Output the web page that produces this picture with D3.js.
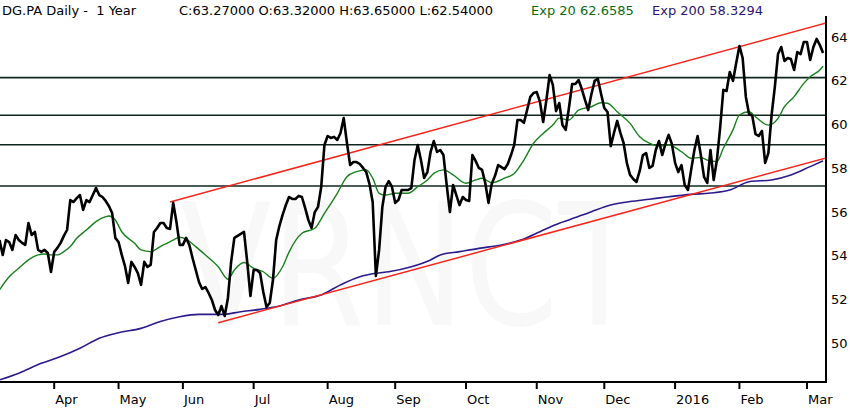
<!DOCTYPE html>
<html>
<head>
<meta charset="utf-8">
<title>DG.PA Daily - 1 Year</title>
<script src="https://cdn.jsdelivr.net/npm/d3@7"></script>
<style>
    html, body { margin: 0; padding: 0; background: #fff; }
    svg { display: block; font-family: "DejaVu Sans", Verdana, sans-serif; }
    .header { white-space: pre; }
</style>
</head>
<body>
<div id="chart"></div>
<script>
// --- Chart data ---
// daily closes, one per trading day, index 0 = first day shown
const closes = [
    54.71, 54.03, 54.71, 54.62, 54.26, 54.94, 54.71, 54.58, 54.49, 55.49,
    54.94, 55.08, 54.26, 54.17, 54.26, 54.12, 53.25, 54.17, 54.35, 54.58,
    54.90, 55.17, 56.54, 56.45, 56.63, 56.77, 56.09, 56.54, 56.45, 56.77,
    57.09, 56.77, 56.68, 56.50, 56.27, 55.95, 54.81, 54.62, 54.03, 53.52,
    52.75, 53.71, 53.48, 53.20, 52.66, 53.71, 53.48, 53.57, 55.08, 55.26,
    55.49, 55.49, 55.26, 55.22, 56.41, 55.54, 54.49, 54.49, 54.81, 54.49,
    53.89, 53.34, 52.79, 52.47, 52.56, 52.29, 51.97, 51.51, 51.28, 51.69,
    51.24, 52.06, 53.71, 54.81, 54.90, 54.99, 55.08, 53.71, 52.15, 53.34,
    53.34, 53.20, 52.33, 51.65, 51.83, 52.88, 54.71, 55.35, 55.86, 56.31,
    56.68, 56.59, 56.59, 56.73, 56.68, 56.18, 55.63, 55.26, 55.99, 56.22,
    57.14, 59.06, 59.47, 59.38, 59.43, 59.29, 59.61, 60.29, 59.15, 58.14,
    58.28, 58.28, 58.19, 58.01, 57.82, 57.28, 56.45, 53.07, 54.26, 56.22,
    57.14, 57.41, 57.14, 56.41, 56.54, 57.00, 57.00, 57.00, 57.09, 58.37,
    59.06, 58.37, 57.55, 57.82, 58.74, 59.24, 58.74, 58.83, 58.60, 57.23,
    55.99, 57.23, 56.77, 56.31, 56.68, 56.54, 56.50, 58.60, 58.33, 58.01,
    57.92, 57.32, 56.41, 57.28, 57.64, 58.14, 58.05, 57.96, 58.19, 58.60,
    59.06, 60.20, 60.20, 60.07, 60.66, 61.26, 61.44, 61.48, 61.03, 60.11,
    61.12, 62.26, 61.81, 60.61, 60.98, 59.97, 59.75, 60.75, 61.85, 61.85,
    62.03, 61.62, 61.12, 60.66, 61.39, 61.99, 62.08, 61.39, 60.75, 60.57,
    59.01, 59.61, 60.16, 59.61, 59.15, 58.24, 57.69, 57.50, 57.37, 57.87,
    58.60, 58.69, 58.01, 58.10, 58.83, 59.24, 58.60, 59.11, 59.52, 59.11,
    58.24, 57.82, 58.14, 57.23, 57.00, 57.92, 58.83, 59.47, 58.60, 57.60,
    57.32, 58.83, 57.46, 58.37, 59.84, 61.58, 61.53, 62.40, 61.99, 62.81,
    63.59, 63.04, 61.26, 60.48, 60.39, 59.56, 59.47, 59.70, 58.24, 58.69,
    60.43, 61.71, 63.22, 63.54, 62.90, 63.04, 62.99, 62.49, 63.31, 63.22,
    63.77, 63.77, 62.95, 63.54, 63.91, 63.63, 63.27
];

// Exp 20 moving average, sampled where it bends
const ema20Days = [0, 3, 6, 9, 12, 14, 16, 18, 20, 22, 24, 27, 30, 33, 34, 36, 38, 42, 44, 47,
    50, 54, 56, 58, 61, 64, 68, 71, 73, 76, 79, 82, 85, 88, 90, 94, 98, 101, 105, 108,
    111, 114, 116, 118, 120, 123, 127, 130, 133, 135, 138, 141, 145, 148, 150, 153, 157, 160, 163, 166,
    169, 172, 174, 177, 180, 184, 187, 189, 192, 196, 199, 202, 205, 208, 212, 215, 218, 220, 223, 225,
    228, 230, 233, 235, 239, 242, 244, 247, 250, 252, 255, 256];
const ema20Values = [52.43, 53.03, 53.42, 53.80, 54.03, 54.07, 54.03, 54.03, 54.18, 54.41, 54.79, 55.17, 55.55, 55.78, 55.81, 55.63, 55.09, 54.56, 54.26, 54.18,
    54.41, 54.71, 54.84, 54.75, 54.41, 54.03, 53.49, 52.92, 53.34, 53.68, 53.42, 53.26, 52.96, 53.49, 54.16, 55.02, 55.25, 55.93, 56.85, 57.61,
    57.84, 57.92, 57.54, 56.85, 56.77, 56.85, 56.85, 57.15, 57.46, 57.76, 57.92, 57.69, 57.31, 57.46, 57.54, 57.33, 57.54, 57.76, 58.37, 59.14,
    59.59, 59.97, 60.29, 60.20, 60.66, 60.81, 60.99, 60.97, 60.58, 60.05, 59.44, 59.14, 59.01, 59.06, 58.75, 58.45, 58.49, 58.37, 58.30, 58.91,
    59.75, 60.43, 60.58, 60.35, 59.97, 60.28, 60.81, 61.27, 61.88, 62.18, 62.49, 62.66];

// Exp 200 moving average
const ema200Days = [0, 6, 13, 19, 25, 31, 37, 44, 50, 56, 62, 69, 75, 81, 87, 93, 100, 106, 112, 117,
    121, 128, 134, 137, 143, 149, 156, 162, 168, 174, 177, 184, 190, 196, 202, 208, 215, 221, 227, 233,
    240, 246, 252, 256];
const ema200Values = [48.31, 48.62, 49.07, 49.38, 49.76, 50.22, 50.47, 50.67, 50.98, 51.20, 51.31, 51.31, 51.43, 51.54, 51.69, 51.97, 52.20, 52.66, 53.03, 53.19,
    53.26, 53.49, 53.80, 54.03, 54.18, 54.33, 54.48, 54.71, 55.09, 55.48, 55.63, 56.01, 56.31, 56.47, 56.58, 56.69, 56.80, 56.86, 57.00, 57.38,
    57.46, 57.69, 58.07, 58.33];

// trend channel (start day, start value, end day, end value)
const channelLines = [
    [53, 56.45, 257, 64.64],
    [68, 50.93, 257, 58.47]
];

// horizontal support / resistance levels
const levels = [62.14, 60.42, 59.07, 57.18];

// x axis: first trading day of each month
const monthLabels = ['Apr', 'May', 'Jun', 'Jul', 'Aug', 'Sep', 'Oct', 'Nov', 'Dec', '2016', 'Feb', 'Mar'];
const monthDays = [17, 37, 57, 79, 102, 123, 145, 167, 188, 210, 230, 251];

const yTicks = [50, 52, 54, 56, 58, 60, 62, 64];

const header = [
    { text: 'DG.PA Daily -  1 Year', x: 2, color: '#000' },
    { text: 'C:63.27000 O:63.32000 H:63.65000 L:62.54000', x: 179, color: '#000' },
    { text: 'Exp 20 62.6585', x: 531, color: '#0b6b12' },
    { text: 'Exp 200 58.3294', x: 652, color: '#2c1474' }
];

// --- Drawing ---
document.addEventListener('DOMContentLoaded', () => {
    const width = 850, height = 408;
    const plot = { left: 0, right: 826, top: 16, bottom: 382 };

    const x = d3.scaleLinear().domain([0, 257]).range([-0.49, -0.49 + 3.217 * 257]);
    const y = d3.scaleLinear().domain([50, 64]).range([343, 37]);

    const svg = d3.select('#chart').append('svg')
        .attr('width', width)
        .attr('height', height);

    svg.append('defs').append('clipPath').attr('id', 'plot-clip')
        .append('rect')
        .attr('x', plot.left).attr('y', plot.top)
        .attr('width', plot.right - plot.left).attr('height', plot.bottom - plot.top);

    // faint watermark behind everything
    svg.append('text')
        .attr('x', 180).attr('y', 325)
        .attr('font-size', 170)
        .attr('textLength', 460)
        .attr('lengthAdjust', 'spacingAndGlyphs')
        .attr('fill', '#f8f8f8')
        .text('VRNCT');

    const g = svg.append('g').attr('clip-path', 'url(#plot-clip)');

    g.selectAll('.level').data(levels).join('line')
        .attr('class', 'level')
        .attr('x1', plot.left).attr('x2', plot.right)
        .attr('y1', d => y(d)).attr('y2', d => y(d))
        .attr('stroke', '#10261f')
        .attr('stroke-width', 1.6);

    const lineStraight = d3.line().x(d => x(d[0])).y(d => y(d[1]));
    const lineSmooth = d3.line().x(d => x(d[0])).y(d => y(d[1])).curve(d3.curveMonotoneX);

    g.append('path')
        .datum(d3.zip(ema200Days, ema200Values))
        .attr('fill', 'none')
        .attr('stroke', '#2b1a8c')
        .attr('stroke-width', 1.6)
        .attr('d', lineSmooth);

    g.selectAll('.channel').data(channelLines).join('line')
        .attr('class', 'channel')
        .attr('x1', d => x(d[0])).attr('y1', d => y(d[1]))
        .attr('x2', d => x(d[2])).attr('y2', d => y(d[3]))
        .attr('stroke', '#f4271c')
        .attr('stroke-width', 1.5);

    g.append('path')
        .datum(d3.zip(ema20Days, ema20Values))
        .attr('fill', 'none')
        .attr('stroke', '#17801c')
        .attr('stroke-width', 1.4)
        .attr('d', lineSmooth);

    g.append('path')
        .datum(closes.map((c, i) => [i, c]))
        .attr('fill', 'none')
        .attr('stroke', '#000')
        .attr('stroke-width', 2.6)
        .attr('stroke-linejoin', 'round')
        .attr('d', lineStraight);

    // axes: right price axis and bottom time axis
    svg.append('line')
        .attr('x1', plot.right).attr('x2', plot.right)
        .attr('y1', plot.top).attr('y2', plot.bottom + 1)
        .attr('stroke', '#000').attr('stroke-width', 2);
    svg.append('line')
        .attr('x1', 0).attr('x2', plot.right + 1)
        .attr('y1', plot.bottom).attr('y2', plot.bottom)
        .attr('stroke', '#000').attr('stroke-width', 2);

    svg.selectAll('.ylabel').data(yTicks).join('text')
        .attr('class', 'ylabel')
        .attr('x', 831)
        .attr('y', d => y(d))
        .attr('dy', '0.36em')
        .attr('font-size', 13)
        .text(d => d);

    const months = d3.zip(monthDays, monthLabels);
    svg.selectAll('.xtick').data(months).join('line')
        .attr('class', 'xtick')
        .attr('x1', d => x(d[0])).attr('x2', d => x(d[0]))
        .attr('y1', plot.bottom).attr('y2', plot.bottom + 7)
        .attr('stroke', '#000').attr('stroke-width', 2);
    svg.selectAll('.xlabel').data(months).join('text')
        .attr('class', 'xlabel')
        .attr('x', d => x(d[0]) + 1)
        .attr('y', 404)
        .attr('font-size', 13)
        .text(d => d[1]);

    svg.selectAll('.header').data(header).join('text')
        .attr('class', 'header')
        .attr('x', d => d.x)
        .attr('y', 15)
        .attr('font-size', 13)
        .attr('fill', d => d.color)
        .text(d => d.text);
});
</script>
</body>
</html>
